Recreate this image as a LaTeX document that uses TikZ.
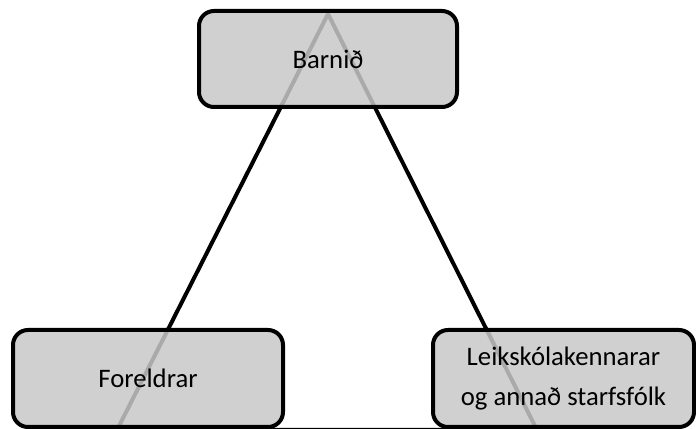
\documentclass[tikz,border=0pt]{standalone}
\usepackage{fontspec}
\setmainfont{Carlito}
\usepackage{tikz}
\usetikzlibrary{backgrounds}
\definecolor{boxColor}{HTML}{C8C8C8}

\tikzset{
  rolebox/.style={draw=black, line width=0.08cm, rounded corners=0.3cm,
    fill=boxColor, fill opacity=0.85, text opacity=1, align=center,
    inner sep=0pt, font=\fontsize{15.2}{22.7}\selectfont},
  tieline/.style={draw=black, line width=0.08cm, line join=round}
}

\begin{document}
\begin{tikzpicture}
          \useasboundingbox (0,0) rectangle (13.92,8.58);
          \node[rolebox, minimum width=5.16cm, minimum height=1.92cm] (barn) at (6.56,7.40) {Barnið};
          \node[rolebox, minimum width=5.40cm, minimum height=1.94cm] (foreldrar) at (2.96,1.01) {Foreldrar};
          \node[rolebox, minimum width=5.22cm, minimum height=1.94cm] (starfsfolk) at (11.27,1.01) {Leikskólakennarar\\og annað starfsfólk};
          \coordinate (apex) at ([yshift=-0.1cm]barn.north);
          \coordinate (baseL) at (2.34,-0.02);
          \coordinate (baseR) at (10.74,-0.02);
          \begin{scope}[on background layer]
            \draw[tieline] (apex) -- (baseL) -- (baseR) -- cycle;
          \end{scope}
        \end{tikzpicture}
\end{document}
